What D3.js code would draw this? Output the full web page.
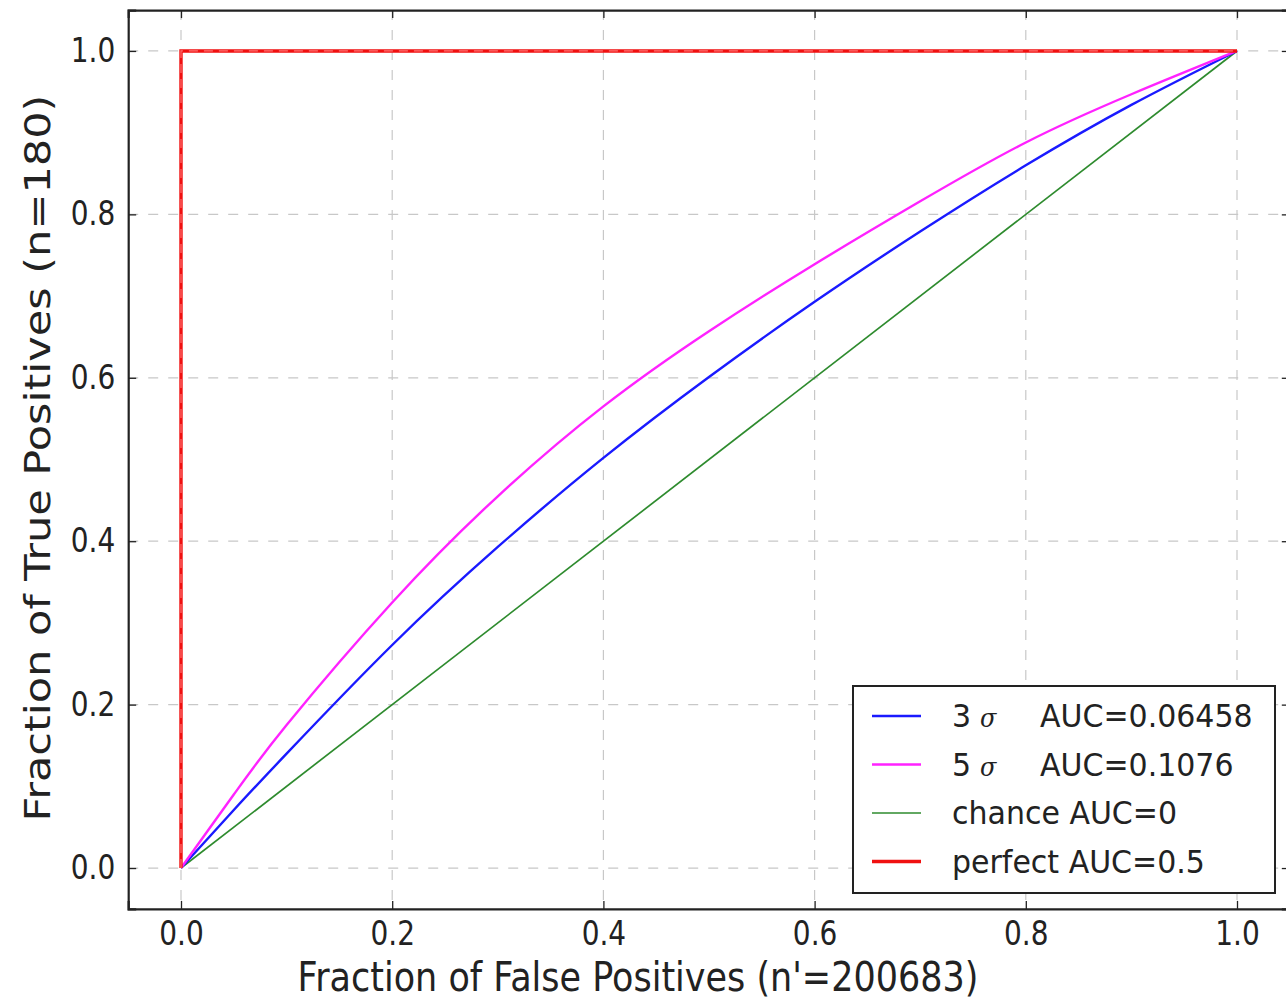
<!DOCTYPE html>
<html lang="en">
<head>
  <meta charset="UTF-8">
  <title>ROC</title>
  <style>
    body { margin: 0; background: #fff; }
    svg text { font-family: "DejaVu Sans", sans-serif; fill: #222; }
    .grid line { stroke: #c8c8c8; stroke-width: 1.2px; stroke-dasharray: 10,10; }
    .tick-label { font-size: 28px; }
    .title { font-size: 35px; }
    .legend text { font-size: 30px; }
  </style>
</head>
<body>
  <svg width="1286" height="1001"></svg>
  <script src="https://cdn.jsdelivr.net/npm/d3@7"></script>
  <script>
    // false positive fraction (x) and curves
    var fpr = [0, 0.05, 0.1, 0.2, 0.3, 0.4, 0.5, 0.6, 0.7, 0.8, 0.9, 1.0];
    var tpr3 = [0, 0.071, 0.14, 0.273, 0.393, 0.502, 0.601, 0.693, 0.779, 0.860, 0.934, 1.0];
    var tpr5 = [0, 0.09, 0.175, 0.325, 0.455, 0.565, 0.657, 0.739, 0.816, 0.888, 0.947, 1.0];
    var chanceX = [0, 1], chanceY = [0, 1];
    var perfectX = [0, 0, 1], perfectY = [0, 1, 1];
    var ticks = [0, 0.2, 0.4, 0.6, 0.8, 1.0];

    var svg = d3.select("svg");
    var stretch = 1.18; // the picture is a bit taller than wide, text too

    var x = d3.scaleLinear().domain([-0.05, 1.05]).range([128.2, 1289.8]);
    var y = d3.scaleLinear().domain([-0.05, 1.05]).range([908.9, 10.1]);

    var line = d3.line()
        .x(function(d) { return x(d[0]); })
        .y(function(d) { return y(d[1]); });
    var curve = d3.line()
        .curve(d3.curveNatural)
        .x(function(d) { return x(d[0]); })
        .y(function(d) { return y(d[1]); });

    function zip(a, b) { return a.map(function(v, i) { return [v, b[i]]; }); }

    // grid
    var grid = svg.append("g").attr("class", "grid");
    grid.selectAll(".gx").data(ticks).enter().append("line")
        .attr("x1", function(d) { return x(d); }).attr("x2", function(d) { return x(d); })
        .attr("y1", y(1.05)).attr("y2", y(-0.05));
    grid.selectAll(".gy").data(ticks).enter().append("line")
        .attr("y1", function(d) { return y(d); }).attr("y2", function(d) { return y(d); })
        .attr("x1", x(-0.05)).attr("x2", x(1.05));

    // curves
    svg.append("path").datum(zip(chanceX, chanceY)).attr("d", line)
        .attr("fill", "none").attr("stroke", "#2e8b2e").attr("stroke-width", 1.7);
    svg.append("path").datum(zip(fpr, tpr3)).attr("d", curve)
        .attr("fill", "none").attr("stroke", "#1a1aff").attr("stroke-width", 2.4);
    svg.append("path").datum(zip(fpr, tpr5)).attr("d", curve)
        .attr("fill", "none").attr("stroke", "#ff22ff").attr("stroke-width", 2.4);
    svg.append("path").datum(zip(perfectX, perfectY)).attr("d", line)
        .attr("fill", "none").attr("stroke", "#f01010").attr("stroke-width", 3.4);
    svg.append("path").datum(zip(perfectX, perfectY)).attr("d", line)
        .attr("fill", "none").attr("stroke", "#ff7070").attr("stroke-width", 1.2)
        .attr("stroke-dasharray", "9,6");

    // axes with inward ticks on all sides
    var frame = { l: x(-0.05), r: x(1.05), t: y(1.05), b: y(-0.05) };
    svg.append("g").call(d3.axisBottom(x).tickValues(ticks).tickSize(-8).tickPadding(11).tickFormat(d3.format(".1f")))
        .attr("transform", "translate(0," + frame.b + ")");
    svg.append("g").call(d3.axisTop(x).tickValues(ticks).tickSize(-8).tickFormat(""))
        .attr("transform", "translate(0," + frame.t + ")");
    svg.append("g").call(d3.axisLeft(y).tickValues(ticks).tickSize(-8).tickPadding(13).tickFormat(d3.format(".1f")))
        .attr("transform", "translate(" + frame.l + ",0)");
    svg.append("g").call(d3.axisRight(y).tickValues(ticks).tickSize(-8).tickFormat(""))
        .attr("transform", "translate(" + frame.r + ",0)");
    svg.selectAll(".domain").attr("stroke", "#222").attr("stroke-width", 2.2);
    svg.selectAll(".tick line").attr("stroke", "#222").attr("stroke-width", 1.3);
    svg.selectAll(".tick text").attr("class", "tick-label")
        .attr("font-size", null).attr("font-family", null)
        .attr("transform", "scale(1," + stretch + ")");

    // titles
    svg.append("text").attr("class", "title").attr("text-anchor", "middle")
        .attr("transform", "translate(638,991) scale(1," + stretch + ")")
        .text("Fraction of False Positives (n'=200683)");
    svg.append("text").attr("class", "title").attr("text-anchor", "middle")
        .attr("transform", "translate(50,458) rotate(-90) scale(1.23,1)")
        .text("Fraction of True Positives (n=180)");

    // legend
    var legendItems = [
      { num: "3", sig: true, auc: "AUC=0.06458", color: "#1a1aff", w: 2.6 },
      { num: "5", sig: true, auc: "AUC=0.1076", color: "#ff22ff", w: 2.6 },
      { num: "chance", sig: false, auc: "AUC=0", color: "#2e8b2e", w: 1.7 },
      { num: "perfect", sig: false, auc: "AUC=0.5", color: "#f01010", w: 3.6 }
    ];
    var lg = svg.append("g").attr("class", "legend");
    lg.append("rect").attr("x", 853).attr("y", 686).attr("width", 422).attr("height", 207)
        .attr("fill", "#fff").attr("stroke", "#222").attr("stroke-width", 2);
    var rows = lg.selectAll(".row").data(legendItems).enter().append("g")
        .attr("transform", function(d, i) { return "translate(0," + (716 + i * 48.5) + ")"; });
    rows.append("line").attr("x1", 872).attr("x2", 921).attr("y1", 0).attr("y2", 0)
        .attr("stroke", function(d) { return d.color; }).attr("stroke-width", function(d) { return d.w; });
    var t = rows.append("text")
        .attr("transform", "translate(952,11) scale(1,1.08)");
    t.append("tspan").text(function(d) { return d.num; });
    t.filter(function(d) { return d.sig; }).append("tspan")
        .attr("dx", 9).attr("font-style", "italic").attr("font-family", "DejaVu Serif").attr("font-size", 24).text("σ");
    t.append("tspan")
        .attr("x", function(d) { return d.sig ? 88 : null; })
        .text(function(d) { return d.sig ? d.auc : " " + d.auc; });
  </script>
</body>
</html>
